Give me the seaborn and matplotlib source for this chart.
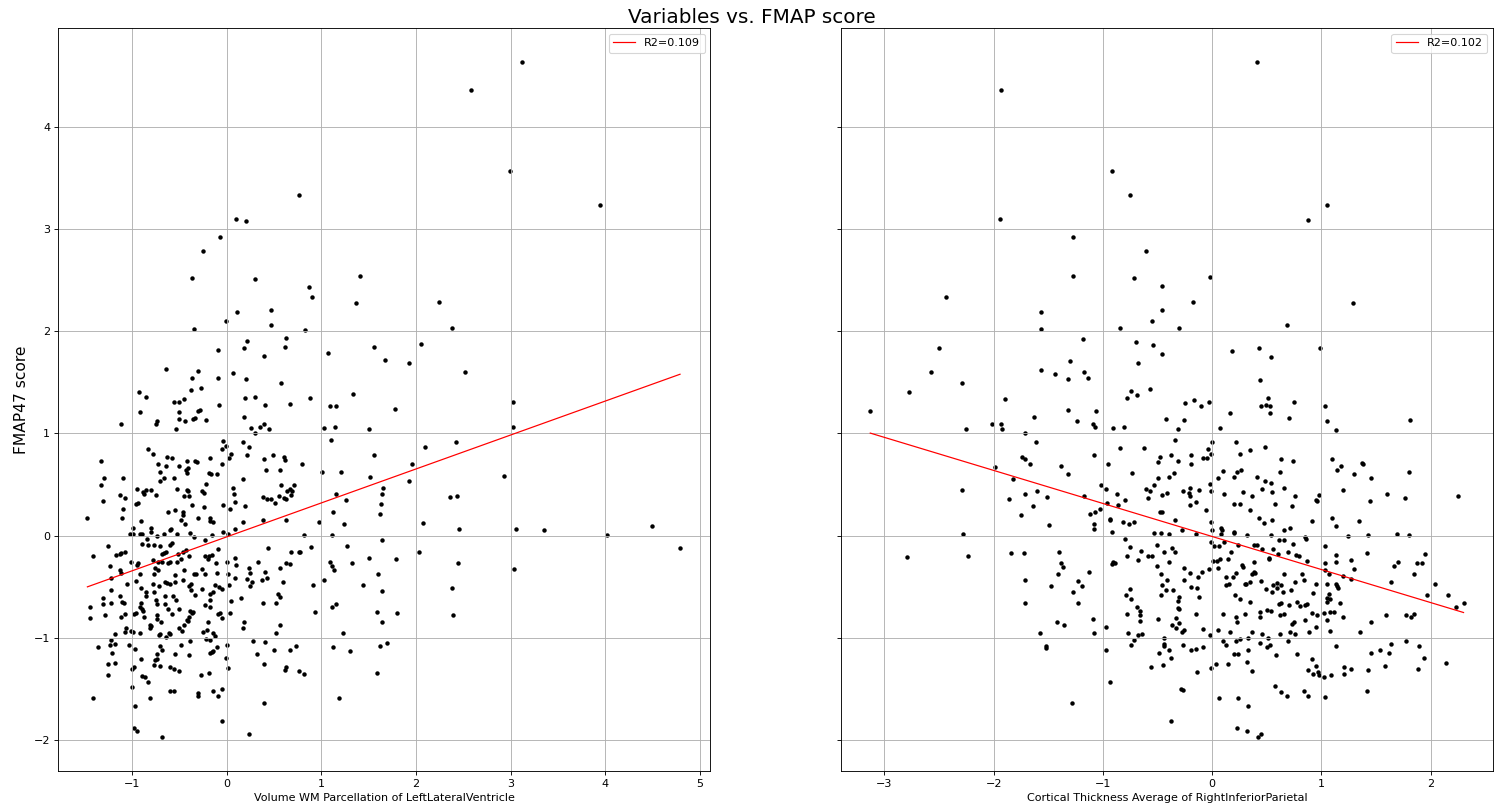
import matplotlib
matplotlib.use('Agg')
import matplotlib.pyplot as plt
import seaborn as sns
import numpy as np
import pandas as pd

# standardized values (x, FMAP47 score)
left_pts = [
    (-0.36,2.52),(0.30,2.51),(0.11,2.19),(0.47,2.21),(0.47,2.06),(-0.01,2.10),(-0.34,2.02),(0.63,1.93),(0.22,1.90),
    (0.62,1.84),(0.18,1.83),(-0.09,1.82),(0.40,1.76),(-0.64,1.63),(-0.30,1.61),(-0.37,1.54),(-0.09,1.54),(0.07,1.59),
    (0.21,1.53),(0.57,1.49),(-0.93,1.40),(-0.85,1.36),(-0.38,1.42),(-0.27,1.44),(-0.45,1.34),(-0.56,1.31),(-0.50,1.31),
    (0.19,1.35),(0.30,1.36),(-0.08,1.28),(0.41,1.28),(0.67,1.29),(-0.91,1.21),(-0.50,1.21),(-0.30,1.22),(-0.28,1.23),
    (-0.50,1.14),(-0.44,1.12),(-0.35,1.14),(-0.33,1.15),(-0.22,1.13),(-0.74,1.12),(-0.75,1.09),(-1.12,1.09),(-0.53,1.04),
    (0.18,1.16),(0.26,1.05),(0.35,1.06),(0.40,1.09),(0.45,1.04),(0.30,1.00),
    (-0.04,0.93),(-0.01,0.88),(-0.05,0.85),(0.17,0.92),(0.24,0.87),(0.05,0.80),(0.03,0.76),(0.22,0.79),(-0.83,0.85),
    (-0.78,0.80),(-1.33,0.73),(-0.63,0.77),(-0.58,0.76),(-0.72,0.70),(-0.64,0.68),(-0.50,0.68),(-0.42,0.73),(-0.33,0.73),
    (-0.31,0.72),(-0.17,0.76),(-0.05,0.70),(-0.41,0.66),(-0.43,0.64),(-0.42,0.61),(-0.70,0.62),(-0.19,0.61),(-0.16,0.60),
    (-0.10,0.60),(0.40,0.75),(0.49,0.79),(0.61,0.77),(0.62,0.74),(0.42,0.64),(0.56,0.64),(-1.29,0.56),(-1.09,0.56),
    (-1.33,0.50),(-0.66,0.56),(-0.70,0.53),(-0.56,0.56),(0.17,0.55),(0.57,0.50),(0.71,0.50),(-0.22,0.51),(-0.52,0.46),
    (-0.42,0.45),(-0.41,0.44),(-0.26,0.44),(-0.24,0.42),(0.07,0.47),(0.08,0.41),(0.67,0.46),(0.69,0.44),(0.64,0.44),
    (0.61,0.37),(0.63,0.36),(0.55,0.39),(0.68,0.40),(-0.95,0.46),(-0.88,0.43),(-0.85,0.45),(-0.80,0.45),(-0.87,0.41),
    (-0.75,0.40),(-1.13,0.40),(-1.07,0.37),(-1.31,0.34),(-0.96,0.31),(-0.94,0.32),(-0.45,0.39),(-0.40,0.39),(-0.36,0.30),
    (-0.24,0.28),(-0.04,0.30),(0.04,0.26),(0.09,0.33),(0.19,0.29),(0.39,0.38),(0.43,0.36),(0.47,0.36),(0.51,0.32),
    (-1.09,0.26),(-1.47,0.17),(-1.10,0.17),(-0.90,0.14),(-0.62,0.23),(-0.54,0.25),(-0.46,0.23),(-0.46,0.20),(-0.48,0.15),
    (-0.44,0.11),(-0.30,0.17),(-0.18,0.17),(-0.18,0.14),(-0.14,0.13),(0.17,0.13),(0.39,0.15),(0.63,0.15),(-0.99,0.08),
    (-0.80,0.08),(-0.59,0.07),(0.09,0.07),
    (-1.02,0.02),(-0.99,0.02),(-0.91,0.02),(-0.89,0.02),(-0.80,0.04),(-0.74,0.00),(-0.66,0.02),(-0.60,0.06),(-0.52,0.02),
    (-0.39,0.03),(-0.34,-0.01),(-0.23,-0.04),(-0.15,0.01),(-0.04,0.04),(0.02,0.02),
    (-1.25,-0.10),(-1.41,-0.20),(-0.89,-0.08),(-0.84,-0.03),(-0.83,-0.09),(-0.77,-0.09),(-0.70,-0.10),(-0.60,-0.09),
    (-0.58,-0.07),(-0.46,-0.16),(-0.43,-0.14),(-0.51,-0.18),(-0.66,-0.17),(-0.64,-0.16),(-0.68,-0.18),(-1.17,-0.19),
    (-1.13,-0.18),(-1.11,-0.17),(-1.07,-0.16),(-1.23,-0.30),(-1.01,-0.26),(-0.95,-0.29),(-0.94,-0.27),(-0.78,-0.24),
    (-0.72,-0.26),(-0.68,-0.26),(-0.62,-0.27),(-0.60,-0.26),(-0.52,-0.26),(-0.48,-0.23),(-0.40,-0.20),(-0.23,-0.20),
    (-0.20,-0.23),(-0.19,-0.20),(-0.15,-0.19),(-0.09,-0.13),(-0.11,-0.27),(0.00,-0.26),(0.09,-0.22),(0.10,-0.29),
    (0.44,-0.12),(0.68,-0.16),(0.77,-0.16),(0.33,-0.26),(0.63,-0.27),(0.67,-0.28),
    (-1.13,-0.34),(-1.11,-0.36),(-1.22,-0.41),(-1.05,-0.47),(-0.91,-0.37),(-0.96,-0.44),(-0.76,-0.32),(-0.72,-0.34),
    (-0.77,-0.37),(-0.78,-0.47),(-0.65,-0.45),(-0.63,-0.46),(-0.60,-0.47),(-0.54,-0.38),(-0.54,-0.45),(-0.45,-0.34),
    (-0.38,-0.47),(-0.46,-0.43),(-0.34,-0.37),(-0.32,-0.37),(-0.26,-0.33),(-0.23,-0.37),(-0.10,-0.36),(-0.12,-0.48),
    (0.01,-0.37),(0.03,-0.48),(0.09,-0.41),(0.22,-0.42),(0.24,-0.32),(0.25,-0.36),(0.27,-0.45),(0.25,-0.49),(0.37,-0.43),
    (0.41,-0.35),(0.43,-0.41),(0.56,-0.32),(0.60,-0.45),
    (-1.22,-0.53),(-1.30,-0.61),(-1.30,-0.67),(-1.22,-0.66),(-1.13,-0.59),(-1.10,-0.65),(-1.08,-0.66),(-0.90,-0.51),
    (-0.85,-0.55),(-0.85,-0.59),(-0.90,-0.66),(-0.91,-0.70),(-0.88,-0.74),(-0.89,-0.72),(-0.77,-0.55),(-0.75,-0.63),
    (-0.71,-0.49),(-0.74,-0.67),(-0.65,-0.59),(-0.65,-0.67),(-0.62,-0.72),(-0.58,-0.77),(-0.57,-0.59),(-0.53,-0.63),
    (-0.50,-0.72),(-0.40,-0.49),(-0.38,-0.53),(-0.39,-0.74),(-0.36,-0.76),(-0.40,-0.79),(-0.42,-0.82),(-0.35,-0.75),
    (-0.33,-0.58),(-0.26,-0.52),(-0.23,-0.68),(-0.18,-0.70),(-0.18,-0.63),(-0.17,-0.57),(-0.14,-0.55),(-0.08,-0.50),
    (-0.05,-0.52),(-0.09,-0.77),(-0.07,-0.76),(-0.05,-0.80),(0.04,-0.76),(0.05,-0.64),(0.15,-0.61),(0.18,-0.84),
    (0.17,-0.90),(0.38,-0.66),(0.52,-0.66),(0.54,-0.57),(0.56,-0.60),(0.56,-0.87),(0.52,-0.95),
    (-1.44,-0.70),(-1.44,-0.80),(-1.28,-0.78),(-1.12,-0.79),(-1.07,-0.77),(-0.98,-0.77),(-0.96,-0.76),(-0.87,-0.79),
    (-0.81,-0.87),(-0.80,-0.88),(-0.81,-0.90),(-0.74,-0.78),(-0.73,-0.81),(-0.69,-0.84),(-1.06,-0.90),(-1.07,-0.94),
    (-1.01,-0.93),(-0.99,-0.94),(-0.91,-0.95),(-0.71,-0.97),(-0.70,-0.96),(-0.61,-0.95),(-0.60,-0.96),(-0.64,-0.99),
    (-0.50,-0.90),(-0.47,-0.93),(-0.45,-0.87),(-0.41,-0.83),(-0.25,-0.94),(-0.21,-0.92),(-0.20,-0.84),(-0.22,-1.01),
    (-0.18,-1.02),(-0.14,-0.95),(-0.12,-0.98),
    (-1.18,-0.96),(-1.22,-1.02),(-1.23,-1.07),(-1.18,-1.06),(-1.36,-1.09),(-1.21,-1.15),(-1.25,-1.25),(-1.18,-1.24),
    (-1.25,-1.36),(-1.03,-1.07),(-0.97,-1.11),(-1.00,-1.30),(-0.98,-1.28),(-0.90,-1.21),(-0.77,-1.26),(-0.76,-1.22),
    (-0.74,-1.21),(-0.73,-1.16),(-0.70,-1.08),(-0.68,-1.12),(-0.70,-1.27),(-0.60,-1.28),(-0.56,-1.30),(-0.50,-1.32),
    (-0.54,-1.16),(-0.48,-1.07),(-0.40,-1.17),(-0.39,-1.03),(-0.27,-1.36),(-0.19,-1.34),(-0.18,-1.15),(-0.15,-1.14),
    (-0.14,-1.13),(-0.10,-1.09),(0.00,-1.07),(-0.01,-1.20),(0.02,-1.29),(0.28,-1.03),(0.32,-1.16),(0.41,-1.04),
    (0.40,-1.25),(0.50,-1.12),(0.67,-1.12),(0.73,-1.08),(0.76,-1.32),(0.62,-1.31),(0.63,-1.28),
    (-0.89,-1.37),(-0.86,-1.38),(-0.83,-1.43),(-1.00,-1.48),(-0.60,-1.52),(-0.56,-1.52),(-0.30,-1.54),(-0.30,-1.57),
    (-0.14,-1.52),(-0.09,-1.57),(-0.05,-1.50),(-1.41,-1.59),(-0.81,-1.59),(-0.97,-1.66),(0.40,-1.64),(-0.05,-1.81),
    (-0.98,-1.88),(-0.95,-1.91),(-0.68,-1.97),(0.24,-1.94),
    (0.87,2.43),(0.90,2.33),(1.41,2.54),(1.37,2.27),(0.83,2.01),(1.07,1.79),(1.56,1.84),(1.67,1.72),(1.93,1.69),
    (2.05,1.87),(2.24,2.28),(2.38,2.03),(2.52,1.60),(0.88,1.35),(1.09,1.27),(1.16,1.27),(1.34,1.39),(1.78,1.24),
    (1.03,1.05),(1.15,1.06),(1.50,1.04),(1.10,0.94),(2.10,0.87),(2.42,0.92),(3.03,1.31),(3.03,1.06),(0.80,0.70),
    (1.01,0.62),(1.21,0.62),(1.56,0.79),(1.51,0.57),(1.96,0.70),(1.93,0.53),(1.65,0.47),(1.64,0.41),(1.16,0.41),
    (1.26,0.35),(1.63,0.31),(1.62,0.21),(1.12,0.23),(0.98,0.13),(1.24,0.11),(2.36,0.38),(2.43,0.39),(2.93,0.58),
    (2.07,0.12),(2.46,0.07),(3.06,0.07),
    (1.11,0.01),(0.82,0.01),(1.64,-0.04),(1.27,-0.10),(0.89,-0.11),(0.78,-0.16),(1.09,-0.26),(1.11,-0.30),(1.13,-0.34),
    (1.33,-0.27),(1.50,-0.22),(1.79,-0.23),(1.60,-0.37),(1.03,-0.43),(0.91,-0.48),(1.44,-0.48),(1.64,-0.54),(1.11,-0.70),
    (1.16,-0.67),(0.93,-0.75),(1.59,-0.75),(1.64,-0.84),(1.80,-0.76),(1.23,-0.95),(1.12,-1.09),(1.30,-1.13),(1.62,-1.08),
    (1.69,-1.05),(0.82,-1.35),(1.59,-1.34),(1.19,-1.59),(2.03,-0.16),(2.44,-0.27),(2.38,-0.51),(2.39,-0.78),(3.04,-0.33),
    (3.12,4.63),(2.58,4.36),(2.99,3.57),(3.95,3.23),(0.76,3.33),(0.10,3.10),(0.21,3.08),(-0.07,2.92),(-0.25,2.78),
    (3.35,0.06),(4.02,0.01),(4.49,0.09),(4.79,-0.12),
]

right_pts = [
    (0.41,4.63),(-1.93,4.36),(-0.92,3.57),(-0.75,3.33),(-1.94,3.10),(1.05,3.23),(0.88,3.09),(-1.27,2.92),(-0.61,2.78),
    (-1.27,2.54),(-0.72,2.52),(-0.02,2.53),(-0.46,2.44),(-2.44,2.33),(-0.18,2.28),(1.29,2.27),(-0.46,2.21),(-1.57,2.19),
    (-0.55,2.10),(0.68,2.06),(-1.57,2.02),(-0.84,2.03),(-0.30,2.03),
    (-2.50,1.83),(-2.57,1.60),(-2.29,1.49),(-2.78,1.40),(-3.13,1.22),(-2.25,1.04),(-2.02,1.09),(-1.99,0.67),(-2.29,0.45),
    (-2.28,0.02),(-2.24,-0.20),(-2.79,-0.21),
    (-1.18,1.92),(-0.70,1.89),(-0.54,1.86),(-0.46,1.78),(0.18,1.81),(-1.30,1.71),(-0.68,1.69),(-1.57,1.62),(-1.44,1.58),
    (-1.32,1.53),(-1.17,1.60),(-1.14,1.54),(-0.57,1.43),(-0.74,1.41),(-0.78,1.35),(-0.69,1.38),(-1.90,1.34),(-0.25,1.30),
    (-0.17,1.33),(-0.10,1.27),(-0.03,1.31),(0.16,1.20),(-1.32,1.23),(-1.06,1.22),(-1.63,1.16),(-1.24,1.12),(-1.09,1.09),
    (-1.07,1.06),(-1.93,1.09),(-1.92,1.04),(-0.91,1.05),(-0.81,1.06),(-0.42,1.14),(-0.26,1.13),(-0.31,1.04),(0.07,1.05),
    (-1.71,1.00),(-1.61,0.92),(-0.84,0.86),(-0.62,0.86),(-0.34,0.94),(0.00,0.92),(0.22,0.92),(-1.74,0.77),(-1.71,0.75),
    (-1.67,0.70),(-1.08,0.79),(-1.38,0.68),(-1.32,0.60),(-0.95,0.70),(-1.82,0.55),(-1.60,0.44),(-1.71,0.41),(-1.86,0.36),
    (-1.64,0.29),(-1.51,0.38),(-1.75,0.20),(-1.49,0.10),(-1.17,0.39),(-1.02,0.50),(-0.97,0.46),(-1.12,0.21),(-1.07,0.23),
    (-1.03,0.26),(-0.96,0.32),(-0.87,0.41),(-0.80,0.35),(-0.86,0.30),(-1.08,0.11),(-1.08,0.07),(-0.94,0.16),(-0.94,0.15),
    (-0.92,0.04),(-0.82,0.13),(-0.76,0.11),(-0.72,0.13),(-0.80,-0.03),(-0.75,-0.11),(-0.73,0.61),(-0.61,0.46),(-0.57,0.44),
    (-0.59,0.37),(-0.53,0.50),(-0.50,0.56),(-0.50,0.72),(-0.48,0.77),(-0.38,0.79),(-0.31,0.73),(-0.35,0.61),(-0.40,0.57),
    (-0.46,0.40),(-0.41,0.42),(-0.48,0.23),(-0.46,0.23),(-0.27,0.44),(-0.21,0.42),(-0.20,0.39),(-0.20,0.47),(-0.12,0.45),
    (-0.20,0.30),(-0.15,0.33),(-0.19,0.79),(-0.19,0.70),(-0.08,0.76),(-0.05,0.76),(-0.04,0.85),(-0.01,0.80),(-0.06,0.25),
    (-0.02,0.51),(-0.01,0.44),(0.05,0.56),(0.10,0.63),(0.11,0.41),(0.20,0.31),(0.25,0.31),(0.20,0.57),(0.23,0.62),
    (0.25,0.80),(0.26,0.64),(0.28,0.43),(-0.34,0.15),(-0.28,0.06),(-0.53,0.03),(-0.47,0.03),(-0.40,0.02),(-0.51,-0.09),
    (-0.37,-0.12),(-0.15,0.02),(-0.01,0.13),(0.00,0.06),(0.08,0.08),(0.09,0.06),(0.20,0.04),(0.20,0.03),(0.08,0.02),
    (-0.01,-0.06),(0.02,-0.10),(0.06,-0.10),(0.11,-0.06),(0.24,-0.09),
    (-1.84,-0.17),(-1.72,-0.17),(-1.40,-0.16),(-1.38,-0.27),(-1.37,-0.31),(-1.41,-0.37),(-1.13,-0.35),(-1.71,-0.43),
    (-1.71,-0.66),(-1.48,-0.49),(-1.23,-0.44),(-1.19,-0.49),(-1.27,-0.55),(-1.23,-0.66),(-1.42,-0.84),(-1.36,-0.87),
    (-1.58,-0.95),(-1.09,-0.81),(-1.08,-0.95),(-1.52,-1.08),(-1.52,-1.10),(-1.28,-1.64),(-0.97,-0.89),(-0.97,-1.12),
    (-0.94,-1.43),(-0.92,-0.28),(-0.89,-0.27),(-0.91,-0.26),(-0.78,-0.20),(-0.65,-0.15),(-0.68,-0.24),(-0.59,-0.20),
    (-0.55,-0.20),(-0.75,-0.52),(-0.79,-0.58),(-0.74,-0.62),(-0.69,-0.70),(-0.66,-0.74),(-0.66,-0.78),(-0.66,-0.83),
    (-0.78,-0.77),(-0.77,-0.95),(-0.72,-1.02),(-0.74,-1.07),(-0.68,-0.97),(-0.64,-0.96),(-0.51,-0.30),(-0.40,-0.26),
    (-0.44,-0.16),(-0.34,-0.16),(-0.47,-0.37),(-0.41,-0.43),(-0.46,-0.48),(-0.42,-0.53),(-0.36,-0.53),(-0.47,-0.58),
    (-0.26,-0.32),(-0.26,-0.43),(-0.20,-0.36),(-0.13,-0.40),(-0.09,-0.35),(-0.03,-0.33),(-0.19,-0.50),(-0.14,-0.51),
    (-0.12,-0.60),(-0.30,-0.60),(-0.31,-0.64),(-0.31,-0.71),(-0.30,-0.72),(-0.15,-0.77),(-0.50,-0.81),(-0.33,-0.80),
    (-0.30,-0.85),(-0.37,-0.87),(-0.33,-0.90),(-0.28,-0.94),(-0.26,-0.92),(-0.08,-0.91),(-0.02,-0.97),(-0.27,-1.07),
    (-0.44,-1.00),(-0.44,-1.06),(-0.44,-1.08),(-0.40,-1.12),(-0.49,-1.15),(-0.38,-1.20),(-0.45,-1.26),(-0.56,-1.28),
    (-0.19,-1.12),(-0.15,-1.11),(-0.08,-1.09),(-0.14,-1.33),(-0.01,-1.29),(-0.29,-1.50),(-0.27,-1.51),(-0.38,-1.81),
    (0.03,-1.25),(0.06,-1.59),(0.01,-0.25),(0.04,-0.25),(0.07,-0.23),(0.14,-0.23),(0.17,-0.16),(0.05,-0.32),(0.13,-0.40),
    (0.19,-0.40),(0.13,-0.48),(0.15,-0.47),(0.22,-0.36),(0.27,-0.29),(0.28,-0.31),(0.30,-0.47),(0.21,-0.58),(0.25,-0.62),
    (0.10,-0.77),(0.22,-0.79),(0.23,-0.84),(0.30,-0.77),(0.05,-0.92),(0.16,-0.94),(0.10,-1.03),(0.13,-1.07),(0.22,-1.03),
    (0.25,-1.01),(0.20,-1.16),(0.24,-1.16),(0.14,-1.25),(0.24,-1.59),(0.23,-1.88),
    (0.43,1.83),(0.54,1.75),(0.44,1.52),(0.51,1.35),(0.45,1.27),(0.49,1.28),(0.53,1.27),(0.53,1.20),(0.75,1.31),
    (0.70,1.15),(0.99,1.83),(1.03,1.27),(1.05,1.12),(1.13,1.03),(1.81,1.13),(0.48,0.87),(0.35,0.84),(0.63,0.75),
    (0.74,0.73),(0.62,0.62),(0.41,0.57),(0.48,0.53),(0.54,0.52),(0.46,0.46),(0.55,0.43),(0.66,0.47),(0.76,0.39),
    (0.36,0.39),(0.57,0.31),(0.73,0.29),(0.35,0.25),(0.43,0.17),(0.47,0.12),(0.55,0.15),(0.71,0.08),(0.66,0.06),
    (0.91,0.14),(0.95,0.35),(0.96,0.34),(0.98,0.40),(1.10,0.75),(1.14,0.64),(1.18,0.68),(1.30,0.60),(1.37,0.71),
    (1.38,0.70),(1.45,0.56),(1.20,0.45),(1.44,0.34),(1.60,0.41),(1.76,0.37),(1.80,0.62),(2.25,0.39),(1.10,0.17),
    (1.13,0.09),(1.34,0.14),(0.32,0.01),(0.54,0.01),(0.61,-0.04),(0.66,-0.04),(0.74,-0.08),(0.85,-0.01),(0.86,-0.03),
    (1.03,-0.10),(1.24,0.00),(1.43,0.01),(1.69,0.02),(1.80,0.01),(0.38,-0.09),(0.41,-0.09),(0.46,-0.13),(0.56,-0.13),
    (0.52,-0.22),(0.52,-0.23),(0.60,-0.18),(0.69,-0.16),(0.77,-0.19),(0.79,-0.20),(0.87,-0.25),(1.03,-0.27),(1.13,-0.26),
    (1.13,-0.19),(0.38,-0.26),(0.38,-0.35),(0.36,-0.37),(0.39,-0.36),(0.35,-0.45),(0.31,-0.47),(0.45,-0.44),(0.66,-0.37),
    (0.56,-0.48),(0.59,-0.46),(0.63,-0.48),(0.59,-0.51),(0.49,-0.52),(0.55,-0.55),(0.65,-0.55),(0.72,-0.53),(0.76,-0.45),
    (0.82,-0.37),(0.84,-0.43),(0.95,-0.47),(0.92,-0.56),(1.05,-0.47),(1.03,-0.34),(1.07,-0.37),(1.13,-0.47),(1.14,-0.49),
    (1.15,-0.51),(1.07,-0.57),(1.05,-0.61),(1.08,-0.62),(1.05,-0.65),(1.17,-0.66),(1.27,-0.24),(1.30,-0.33),(1.27,-0.42),
    (1.20,-0.39),(1.42,-0.17),(1.66,-0.30),(1.70,-0.26),(1.64,-0.45),(1.85,-0.37),(1.87,-0.27),(1.92,-0.27),(1.95,-0.18),
    (2.04,-0.47),(1.97,-0.58),(2.16,-0.58),(2.23,-0.70),(2.30,-0.66),(0.35,-0.65),(0.44,-0.75),(0.44,-0.79),(0.50,-0.73),
    (0.54,-0.74),(0.62,-0.78),(0.66,-0.77),(0.70,-0.68),(0.63,-0.66),(0.61,-0.67),(0.73,-0.86),(0.75,-0.84),(0.78,-0.65),
    (0.80,-0.69),(0.85,-0.68),(0.87,-0.67),(0.91,-0.76),(0.96,-0.78),(0.85,-0.82),(0.95,-0.89),(0.89,-0.94),(1.02,-0.76),
    (1.08,-0.75),(1.11,-0.75),(1.05,-0.82),(1.08,-0.93),(1.20,-0.79),(0.36,-0.94),(0.62,-0.96),(0.71,-0.94),(0.76,-0.96),
    (0.69,-1.03),(0.33,-1.00),(0.44,-1.05),(0.46,-0.96),(0.50,-1.09),(0.51,-1.00),(0.53,-1.07),(0.58,-1.17),(0.33,-1.12),
    (0.32,-1.23),(0.36,-1.32),(0.78,-1.16),(0.91,-1.21),(0.95,-1.27),(0.92,-1.35),(0.97,-1.33),(0.98,-1.36),(1.02,-1.38),
    (0.88,-1.31),(1.09,-1.36),(1.13,-1.08),(1.21,-1.35),(1.21,-1.28),(1.27,-1.30),(1.35,-0.94),(1.45,-0.84),(1.59,-0.78),
    (1.77,-0.78),(1.82,-0.79),(1.85,-0.77),(1.43,-1.31),(1.45,-1.15),(1.54,-1.12),(1.58,-1.27),(1.62,-1.15),(1.64,-1.06),
    (1.77,-1.03),(1.89,-1.08),(1.94,-1.20),(1.88,-1.30),(2.14,-1.24),(1.42,-1.52),(1.03,-1.58),(0.88,-1.57),(0.84,-1.52),
    (0.68,-1.57),(0.63,-1.53),(0.57,-1.47),(0.33,-1.66),(0.32,-1.91),(0.42,-1.97),(0.45,-1.94),
]

# linear fits (slope, intercept) and their R2
left_fit = (0.332, -0.012)
right_fit = (-0.323, -0.008)
r2_labels = ['R2=0.109', 'R2=0.102']
x_labels = ['Volume WM Parcellation of LeftLateralVentricle',
            'Cortical Thickness Average of RightInferiorParietal']

fig, axes = plt.subplots(1, 2, figsize=(18.8, 10.1125), dpi=80, sharey=True)
fig.subplots_adjust(left=0.0386, right=0.9927, top=0.965, bottom=0.047, wspace=0.2)

for ax, pts, fit, lab, xl in zip(axes, [left_pts, right_pts], [left_fit, right_fit], r2_labels, x_labels):
    df = pd.DataFrame(pts, columns=['x', 'score'])
    sns.scatterplot(data=df, x='x', y='score', ax=ax, color='black', s=16, linewidth=0)
    xs = np.array([df['x'].min(), df['x'].max()])
    ax.plot(xs, fit[0] * xs + fit[1], color='red', lw=1.1, label=lab)
    ax.legend(loc='upper right')
    ax.grid(True)
    ax.set_xlabel(xl)
    ax.set_ylabel('')

axes[0].set_xlim(-1.78, 5.11)
axes[1].set_xlim(-3.40, 2.57)
axes[0].set_ylim(-2.30, 4.96)
axes[0].set_ylabel('FMAP47 score', fontsize=14)
fig.suptitle('Variables vs. FMAP score', fontsize=18, y=0.99)

fig.savefig('out.png', dpi=80)
